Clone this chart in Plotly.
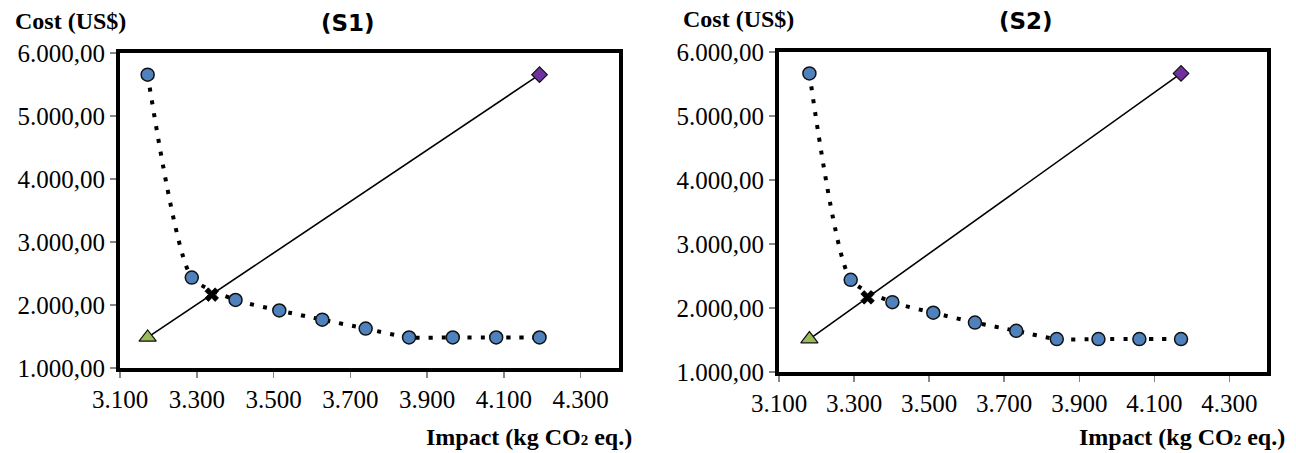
import plotly.graph_objects as go

W, H = 1296, 453

# ---- data ----
impact_s1 = [3172, 3287, 3401, 3515, 3627, 3740, 3853, 3967, 4080, 4193]
cost_s1 = [5656, 2435, 2080, 1913, 1767, 1626, 1485, 1485, 1485, 1485]
utopia_s1 = (3172, 1485)      # triangle
nadir_s1 = (4193, 5656)       # diamond
chosen_s1 = (3339, 2165)      # X mark

impact_s2 = [3181, 3291, 3402, 3511, 3622, 3732, 3840, 3951, 4060, 4171]
cost_s2 = [5666, 2440, 2091, 1926, 1772, 1643, 1514, 1514, 1514, 1514]
utopia_s2 = (3181, 1514)
nadir_s2 = (4171, 5666)
chosen_s2 = (3336, 2166)

titles = ["(S1)", "(S2)"]
x_ticks = [3100, 3300, 3500, 3700, 3900, 4100, 4300]
y_ticks = [1000, 2000, 3000, 4000, 5000, 6000]

# ---- layout helpers (pixels -> paper) ----
def px(x):
    return x / W

def py(y):
    return 1 - y / H

panels = [
    dict(x0=120, x1=619, y0=53, y1=368, title_x=348, title_y=23,
         cost_x=13, cost_y=21, imp_x=634, imp_y=452),
    dict(x0=779, x1=1267, y0=52, y1=372, title_x=1026, title_y=21,
         cost_x=681, cost_y=19, imp_x=1287, imp_y=452),
]

data = [
    (impact_s1, cost_s1, utopia_s1, nadir_s1, chosen_s1),
    (impact_s2, cost_s2, utopia_s2, nadir_s2, chosen_s2),
]

fig = go.Figure()
annotations = []
serif = "Liberation Serif"

for i, (imp, cost, uto, nad, cho) in enumerate(data):
    xa = "x" if i == 0 else "x2"
    ya = "y" if i == 0 else "y2"
    fig.add_trace(go.Scatter(
        x=imp, y=cost, mode="lines", xaxis=xa, yaxis=ya,
        line=dict(color="black", width=4, shape="spline", smoothing=0.6,
                  dash="4px,9px"),
        hoverinfo="skip", showlegend=False))
    fig.add_trace(go.Scatter(
        x=imp, y=cost, mode="markers", xaxis=xa, yaxis=ya,
        marker=dict(symbol="circle", size=13, color="#4F81BD",
                    line=dict(color="#111111", width=1.5)),
        showlegend=False))
    fig.add_trace(go.Scatter(
        x=[uto[0], nad[0]], y=[uto[1], nad[1]], mode="lines",
        xaxis=xa, yaxis=ya, line=dict(color="black", width=1.6),
        showlegend=False))
    fig.add_trace(go.Scatter(
        x=[uto[0]], y=[uto[1]], mode="markers", xaxis=xa, yaxis=ya,
        marker=dict(symbol="triangle-up", size=15, color="#9BBB59",
                    line=dict(color="#111111", width=1.2)),
        showlegend=False))
    fig.add_trace(go.Scatter(
        x=[nad[0]], y=[nad[1]], mode="markers", xaxis=xa, yaxis=ya,
        marker=dict(symbol="diamond", size=12, color="#7030A0",
                    line=dict(color="#111111", width=1.2)),
        showlegend=False))
    fig.add_trace(go.Scatter(
        x=[cho[0]], y=[cho[1]], mode="markers", xaxis=xa, yaxis=ya,
        marker=dict(symbol="x", size=12, color="black",
                    line=dict(color="black", width=0.8)),
        showlegend=False))

    p = panels[i]
    annotations += [
        dict(text="<b>%s</b>" % titles[i], x=px(p["title_x"]), y=py(p["title_y"]),
             xref="paper", yref="paper", xanchor="center", yanchor="middle",
             showarrow=False, font=dict(family="DejaVu Sans", size=23, color="black")),
        dict(text="<b>Cost (US$)</b>", x=px(p["cost_x"]), y=py(p["cost_y"]),
             xref="paper", yref="paper", xanchor="left", yanchor="middle",
             showarrow=False, font=dict(family=serif, size=24, color="black")),
        dict(text="<b>Impact (kg CO<span style='font-size:15px'>2</span> eq.)</b>",
             x=px(p["imp_x"]), y=py(p["imp_y"]),
             xref="paper", yref="paper", xanchor="right", yanchor="bottom",
             showarrow=False, font=dict(family=serif, size=24, color="black")),
    ]

axis_common = dict(
    showline=True, linecolor="black", linewidth=4, mirror=True,
    showgrid=False, zeroline=False, automargin=False,
    ticks="outside", ticklen=6, tickwidth=1.5, tickcolor="#888888",
    tickfont=dict(family=serif, size=25, color="black"),
)

layout_axes = {}
for i, p in enumerate(panels):
    xk = "xaxis" if i == 0 else "xaxis2"
    yk = "yaxis" if i == 0 else "yaxis2"
    layout_axes[xk] = dict(axis_common, domain=[px(p["x0"]), px(p["x1"])],
                           range=[3100, 4400], tickvals=x_ticks,
                           tickformat=",.0f",
                           anchor="y" if i == 0 else "y2")
    layout_axes[yk] = dict(axis_common, domain=[py(p["y1"]), py(p["y0"])],
                           range=[1000, 6000], tickvals=y_ticks,
                           tickformat=",.2f",
                           anchor="x" if i == 0 else "x2")

fig.update_layout(
    width=W, height=H,
    margin=dict(l=0, r=0, t=0, b=0, pad=0, autoexpand=False),
    paper_bgcolor="white", plot_bgcolor="white",
    separators=",.",
    annotations=annotations,
    showlegend=False,
    **layout_axes,
)

fig.write_html(
    "out.html",
    config={"displayModeBar": False, "staticPlot": True},
    post_script="document.body.style.margin='0';document.body.style.padding='0';"
                "document.body.style.overflow='hidden';",
)
